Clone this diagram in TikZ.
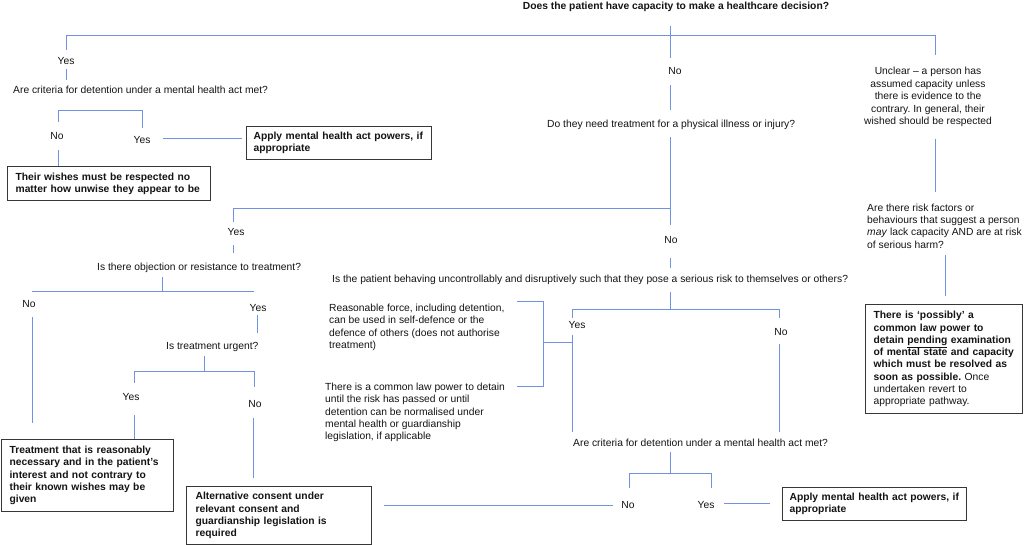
\documentclass[tikz,border=0pt]{standalone}
\usepackage{fontspec}
\setmainfont{Liberation Sans}
\frenchspacing
\definecolor{lineblue}{RGB}{112,146,224}
\definecolor{boxgray}{RGB}{55,55,55}
\definecolor{txt}{RGB}{20,20,20}
\tikzset{
  base/.style={font=\fontsize{10.3}{12.4}\selectfont\frenchspacing, text=txt, inner sep=0pt},
  boldlbl/.style={base, font=\fontsize{10.3}{12.4}\selectfont\bfseries},
  para/.style={base, align=left, anchor=west},
  cpara/.style={base, align=center},
  outbox/.style={base, draw=boxgray, line width=1.2pt, font=\fontsize{10.3}{12.3}\selectfont\bfseries\frenchspacing, align=left, anchor=north west, inner ysep=0pt},
  conn/.style={draw=lineblue, line width=1pt},
}
\begin{document}
\begin{tikzpicture}[x=1pt,y=-1pt]
\useasboundingbox[fill=white] (0,0) rectangle (1024,545);

% ---------- text nodes ----------
\node[boldlbl] (title) at (676,7) {Does the patient have capacity to make a healthcare decision?};

\node[base] (yes1) at (66,61) {Yes};
\node[para] (q1) at (13,90) {Are criteria for detention under a mental health act met?};
\node[base] (no1a) at (57,136) {No};
\node[base] (yes1a) at (142,140) {Yes};
\node[outbox, inner xsep=7pt, text width=171pt, minimum height=33pt] (box1) at (246,126) {Apply mental health act powers, if\\appropriate};
\node[outbox, inner xsep=8pt, text width=187pt, minimum height=34pt] (box2) at (7,166) {Their wishes must be respected no\\matter how unwise they appear to be};

\node[base] (no2) at (675,71) {No};
\node[para] (q2) at (547,125) {Do they need treatment for a physical illness or injury?};

\node[cpara] (unclear) at (928,97) {Unclear – a person has\\assumed capacity unless\\there is evidence to the\\contrary. In general, their\\wished should be respected};
\node[para] (risk) at (867,226) {Are there risk factors or\\behaviours that suggest a person\\\textit{may} lack capacity AND are at risk\\of serious harm?};
\node[outbox, inner xsep=8pt, text width=141pt, minimum height=109pt] (box6) at (865,304) {There is ‘possibly’ a\\common law power to\\detain \underline{pending} examination\\of mental state and capacity\\which must be resolved as\\soon as possible.\mdseries{} Once\\undertaken revert to\\appropriate pathway.};

\node[base] (yes3) at (236,232) {Yes};
\node[para] (q3) at (97,268) {Is there objection or resistance to treatment?};
\node[base] (no3) at (29,304) {No};
\node[base] (yes3b) at (258,308) {Yes};
\node[para] (q3u) at (166,347) {Is treatment urgent?};
\node[base] (yes3c) at (131,397) {Yes};
\node[base] (no3c) at (255,404) {No};
\node[outbox, inner xsep=8pt, text width=156pt, minimum height=72pt] (box3) at (1,439) {Treatment that is reasonably\\necessary and in the patient’s\\interest and not contrary to\\their known wishes may be\\given};
\node[outbox, inner xsep=9pt, text width=167pt, minimum height=58pt] (box4) at (186,486) {Alternative consent under\\relevant consent and\\guardianship legislation is\\required};

\node[base] (no4) at (671,240) {No};
\node[para] (q4) at (332,280) {Is the patient behaving uncontrollably and disruptively such that they pose a serious risk to themselves or others?};
\node[base] (yes4) at (577,325) {Yes};
\node[base] (no4b) at (781,332) {No};
\node[para] (force) at (329,327.5) {Reasonable force, including detention,\\can be used in self-defence or the\\defence of others (does not authorise\\treatment)};
\node[para] (common) at (325,412.5) {There is a common law power to detain\\until the risk has passed or until\\detention can be normalised under\\mental health or guardianship\\legislation, if applicable};
\node[para] (q5) at (573,443) {Are criteria for detention under a mental health act met?};
\node[base] (no5) at (628,505) {No};
\node[base] (yes5) at (706,505) {Yes};
\node[outbox, inner xsep=7pt, text width=170pt, minimum height=33pt] (box5) at (782,487) {Apply mental health act powers, if\\appropriate};

% ---------- connector end points ----------
\coordinate (tA) at (670,26);  \coordinate (tB) at (670,58);
\coordinate (bL0) at (66,50);  \coordinate (bL) at (66,36);
\coordinate (bR) at (935,36);  \coordinate (bR0) at (935,55);
\coordinate (y1a) at (66,69);  \coordinate (y1b) at (66,80);
\coordinate (k1) at (58,122);  \coordinate (k2) at (58,111);
\coordinate (k3) at (142,111); \coordinate (k4) at (142,128);
\coordinate (n1a) at (58,150); \coordinate (n1b) at (58,166);
\coordinate (y1c) at (163,139); \coordinate (y1d) at (242,139);
\coordinate (n2a) at (670,85); \coordinate (n2b) at (670,110);
\coordinate (q2a) at (670,137); \coordinate (q2j) at (670,209); \coordinate (q2b) at (670,225);
\coordinate (y3j) at (233,209); \coordinate (y3a) at (233,222);
\coordinate (y3b) at (233,245); \coordinate (y3c) at (233,253);
\coordinate (q3a) at (162,277); \coordinate (q3j) at (162,291);
\coordinate (q3L) at (32,291);  \coordinate (q3R) at (254,291);
\coordinate (n3a) at (32,317);  \coordinate (n3b) at (32,423);
\coordinate (y3d) at (257,315); \coordinate (y3e) at (257,333);
\coordinate (u1) at (204,356);  \coordinate (u2) at (204,371);
\coordinate (u3) at (134,383);  \coordinate (u4) at (134,371);
\coordinate (u5) at (254,371);  \coordinate (u6) at (254,387);
\coordinate (u7) at (134,415);  \coordinate (u8) at (134,439);
\coordinate (u9) at (253,418);  \coordinate (u10) at (253,478);
\coordinate (n4a) at (670,258); \coordinate (n4b) at (670,268);
\coordinate (q4a) at (670,292); \coordinate (q4j) at (670,309);
\coordinate (q4L0) at (572,318); \coordinate (q4L) at (572,309);
\coordinate (q4R) at (779,309); \coordinate (q4R0) at (779,318);
\coordinate (n4c) at (779,344); \coordinate (n4d) at (779,432);
\coordinate (y4a) at (572,335); \coordinate (y4j) at (572,342); \coordinate (y4b) at (572,432);
\coordinate (br) at (543,342);
\coordinate (brT0) at (517,301); \coordinate (brT) at (543,301);
\coordinate (brB) at (543,386); \coordinate (brB0) at (517,386);
\coordinate (q5a) at (670,452); \coordinate (q5j) at (670,473);
\coordinate (q5L0) at (629,488); \coordinate (q5L) at (629,473);
\coordinate (q5R) at (711,473); \coordinate (q5R0) at (711,488);
\coordinate (n5a) at (384,505); \coordinate (n5b) at (613,505);
\coordinate (y5a) at (724,503); \coordinate (y5b) at (770,503);
\coordinate (uc1) at (935,139); \coordinate (uc2) at (935,192);
\coordinate (rk1) at (945,255); \coordinate (rk2) at (945,296);

% ---------- connectors ----------
\draw[conn] (tA) -- (tB);
\draw[conn] (bL0) -- (bL) -- (bR) -- (bR0);
\draw[conn] (y1a) -- (y1b);
\draw[conn] (k1) -- (k2) -- (k3) -- (k4);
\draw[conn] (n1a) -- (n1b);
\draw[conn] (y1c) -- (y1d);
\draw[conn] (n2a) -- (n2b);
\draw[conn] (q2a) -- (q2b);
\draw[conn] (y3a) -- (y3j) -- (q2j);
\draw[conn] (y3b) -- (y3c);
\draw[conn] (q3a) -- (q3j);
\draw[conn] (q3L) -- (q3R);
\draw[conn] (n3a) -- (n3b);
\draw[conn] (y3d) -- (y3e);
\draw[conn] (u1) -- (u2);
\draw[conn] (u3) -- (u4) -- (u5) -- (u6);
\draw[conn] (u7) -- (u8);
\draw[conn] (u9) -- (u10);
\draw[conn] (n4a) -- (n4b);
\draw[conn] (q4a) -- (q4j);
\draw[conn] (q4L0) -- (q4L) -- (q4R) -- (q4R0);
\draw[conn] (n4c) -- (n4d);
\draw[conn] (y4a) -- (y4b);
\draw[conn] (y4j) -- (br);
\draw[conn] (brT0) -- (brT) -- (brB) -- (brB0);
\draw[conn] (q5a) -- (q5j);
\draw[conn] (q5L0) -- (q5L) -- (q5R) -- (q5R0);
\draw[conn] (n5a) -- (n5b);
\draw[conn] (y5a) -- (y5b);
\draw[conn] (uc1) -- (uc2);
\draw[conn] (rk1) -- (rk2);
\end{tikzpicture}
\end{document}
